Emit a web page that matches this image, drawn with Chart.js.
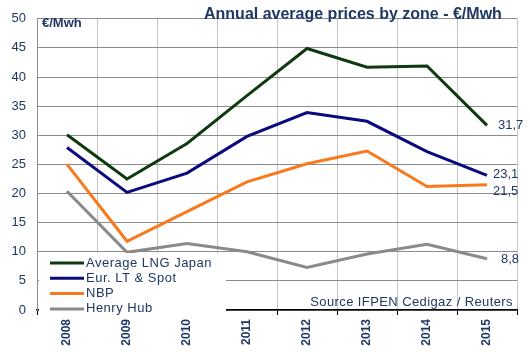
<!DOCTYPE html>
<html>
<head>
<meta charset="utf-8">
<script src="https://cdn.jsdelivr.net/npm/chart.js@4/dist/chart.umd.min.js"></script>
<style>
  html, body { margin: 0; padding: 0; background: #fff; }
  #chart { display: block; }
</style>
</head>
<body>
<canvas id="chart" width="530" height="352"></canvas>
<script>
// Annual average gas prices by zone (€/Mwh)
const years = ['2008', '2009', '2010', '2011', '2012', '2013', '2014', '2015'];
const lngJapan = [30.1, 22.5, 28.6, 36.8, 44.9, 41.7, 41.9, 31.7];
const eurLtSpot = [27.9, 20.2, 23.5, 29.8, 33.9, 32.4, 27.2, 23.1];
const nbp = [25.0, 11.8, 16.9, 22.0, 25.1, 27.3, 21.2, 21.5];
const henryHub = [20.4, 9.9, 11.4, 10.0, 7.3, 9.6, 11.3, 8.8];
const seriesNames = ['Average LNG Japan', 'Eur. LT & Spot', 'NBP', 'Henry Hub'];
const yTicks = [0, 5, 10, 15, 20, 25, 30, 35, 40, 45, 50];

const titleText = 'Annual average prices by zone - €/Mwh';
const unitText = '€/Mwh';
const sourceText = 'Source IFPEN Cedigaz / Reuters';

const textColor = '#1F3864';
const lineColors = ['#0F3A10', '#0A0A7E', '#F97A1E', '#8A8A8A'];

// legend box drawn inside the plot, bottom left
const insideLegend = {
    id: 'insideLegend',
    afterDatasetsDraw(chart) {
        const ctx = chart.ctx;
        ctx.save();
        ctx.fillStyle = '#ffffff';
        ctx.fillRect(39, 253, 187, 63);
        ctx.font = '13px "Liberation Sans", Arial, sans-serif';
        ctx.letterSpacing = '0.5px';
        ctx.textBaseline = 'middle';
        ctx.textAlign = 'left';
        chart.data.datasets.forEach((ds, i) => {
            const y = 263 + i * 15.3;
            ctx.strokeStyle = ds.borderColor;
            ctx.lineWidth = 3;
            ctx.beginPath();
            ctx.moveTo(50, y);
            ctx.lineTo(84, y);
            ctx.stroke();
            ctx.fillStyle = textColor;
            ctx.fillText(ds.label, 86, y);
        });
        ctx.restore();
    }
};

// last value labels + title texts
const extraText = {
    id: 'extraText',
    afterDraw(chart) {
        const ctx = chart.ctx;
        ctx.save();
        ctx.fillStyle = textColor;

        const dx = [11, 6, 6, 14];
        const dy = [0, -1, 7, 1];
        ctx.font = '13px "Liberation Sans", Arial, sans-serif';
        ctx.textBaseline = 'middle';
        ctx.textAlign = 'left';
        chart.data.datasets.forEach((ds, i) => {
            const meta = chart.getDatasetMeta(i);
            const last = meta.data[meta.data.length - 1];
            const v = ds.data[ds.data.length - 1];
            ctx.fillText(v.toFixed(1).replace('.', ','), last.x + dx[i], last.y + dy[i]);
        });

        ctx.textBaseline = 'alphabetic';
        ctx.font = 'bold 16px "Liberation Sans", Arial, sans-serif';
        ctx.fillText(titleText, 204, 19);

        ctx.font = 'bold 13px "Liberation Sans", Arial, sans-serif';
        ctx.fillText(unitText, 42, 27);

        ctx.font = '13px "Liberation Sans", Arial, sans-serif';
        ctx.letterSpacing = '0.4px';
        ctx.textAlign = 'right';
        ctx.fillText(sourceText, 513, 306);
        ctx.restore();
    }
};

function makeSet(label, data, color) {
    return {
        label: label,
        data: data,
        borderColor: color,
        backgroundColor: color,
        borderWidth: 3,
        pointRadius: 0,
        tension: 0,
        fill: false
    };
}

new Chart(document.getElementById('chart'), {
    type: 'line',
    data: {
        labels: years,
        datasets: [
            makeSet(seriesNames[0], lngJapan, lineColors[0]),
            makeSet(seriesNames[1], eurLtSpot, lineColors[1]),
            makeSet(seriesNames[2], nbp, lineColors[2]),
            makeSet(seriesNames[3], henryHub, lineColors[3])
        ]
    },
    options: {
        responsive: false,
        animation: false,
        devicePixelRatio: 1,
        layout: {
            padding: { top: 8, right: 13, left: 0, bottom: 0 }
        },
        plugins: {
            legend: { display: false },
            tooltip: { enabled: false }
        },
        scales: {
            x: {
                type: 'category',
                offset: true,
                afterFit: function(scale) { scale.height = 42; },
                grid: {
                    offset: true,
                    color: '#c4c4c4',
                    lineWidth: 1,
                    tickLength: 5,
                    tickColor: '#000000'
                },
                border: { color: '#000000', width: 1.5 },
                ticks: {
                    autoSkip: false,
                    minRotation: 90,
                    maxRotation: 90,
                    padding: 4,
                    color: textColor,
                    font: { family: '"Liberation Sans", Arial, sans-serif', size: 12, weight: 'bold' }
                }
            },
            y: {
                min: 0,
                max: 50,
                afterFit: function(scale) { scale.width = 37; },
                afterBuildTicks: function(scale) {
                    scale.ticks = yTicks.map(v => ({ value: v }));
                },
                grid: {
                    color: '#8c8c8c',
                    lineWidth: 1,
                    drawTicks: false
                },
                border: { color: '#8c8c8c' },
                ticks: {
                    padding: 11,
                    color: textColor,
                    font: { family: '"Liberation Sans", Arial, sans-serif', size: 13 }
                }
            }
        }
    },
    plugins: [insideLegend, extraText]
});
</script>
</body>
</html>
